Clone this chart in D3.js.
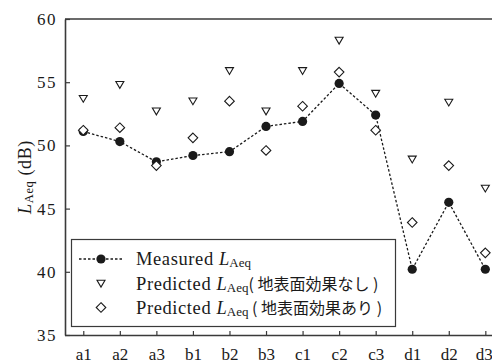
<!DOCTYPE html>
<html>
<head>
<meta charset="utf-8">
<script src="https://cdn.jsdelivr.net/npm/d3@7"></script>
<style>
  html, body { margin: 0; padding: 0; background: #fff; }
  svg { display: block; }
</style>
</head>
<body>
<svg id="chart" width="492" height="363"></svg>
<script>
// Measurement points along the survey route
const sites = ["a1", "a2", "a3", "b1", "b2", "b3", "c1", "c2", "c3", "d1", "d2", "d3"];
// Measured LAeq (dB)
const measured = [51.1, 50.3, 48.7, 49.2, 49.5, 51.5, 51.9, 54.9, 52.4, 40.2, 45.5, 40.2];
// Predicted LAeq without ground effect (dB)
const predictedNoGround = [53.7, 54.8, 52.7, 53.5, 55.9, 52.7, 55.9, 58.3, 54.1, 48.9, 53.4, 46.6];
// Predicted LAeq with ground effect (dB)
const predictedGround = [51.2, 51.4, 48.4, 50.6, 53.5, 49.6, 53.1, 55.8, 51.2, 43.9, 48.4, 41.5];
// Y axis ticks
const yTicks = [35, 40, 45, 50, 55, 60];

const serif = "'Liberation Serif', 'Times New Roman', serif";
const jpSans = "'Noto Sans CJK JP', 'Noto Sans CJK SC', sans-serif";

const svg = d3.select("#chart");
const ink = "#1a1a1a";
const axisInk = "#3a3a3a";

const plotLeft = 65, plotTop = 19, plotBottom = 335, step = 36.55;
const x = d3.scalePoint().domain(sites).range([plotLeft, plotLeft + step * sites.length]).padding(0.5);
const y = d3.scaleLinear().domain([35, 60]).range([plotBottom, plotTop]);

// Top frame line
svg.append("line")
  .attr("x1", plotLeft).attr("x2", 492).attr("y1", plotTop).attr("y2", plotTop)
  .attr("stroke", axisInk).attr("stroke-width", 1.6);

// Left axis with inward ticks
const yAxis = svg.append("g")
  .attr("transform", `translate(${plotLeft},0)`)
  .call(d3.axisLeft(y).tickValues(yTicks).tickSizeInner(-5).tickSizeOuter(0).tickPadding(8))
  .attr("font-family", serif).attr("font-size", 17);
yAxis.select(".domain").attr("stroke", axisInk).attr("stroke-width", 1.6);
yAxis.selectAll(".tick line").attr("stroke", axisInk).attr("stroke-width", 1.2);
yAxis.selectAll(".tick text").attr("fill", ink).attr("letter-spacing", 1.5);

// Bottom axis with inward ticks
const xAxis = svg.append("g")
  .attr("transform", `translate(0,${plotBottom})`)
  .call(d3.axisBottom(x).tickSizeInner(-4).tickSizeOuter(0).tickPadding(13))
  .attr("font-family", serif).attr("font-size", 17);
xAxis.select(".domain").attr("d", `M${plotLeft},0.5H492`).attr("stroke", axisInk).attr("stroke-width", 1.6);
xAxis.selectAll(".tick line").attr("stroke", axisInk).attr("stroke-width", 1.2);
xAxis.selectAll(".tick text").attr("fill", ink)
  .attr("dx", d => d === sites[sites.length - 1] ? -1.5 : 0);

// Y axis title: L_Aeq (dB)
const yTitle = svg.append("text")
  .attr("transform", "translate(31,177) rotate(-90)")
  .attr("text-anchor", "middle")
  .attr("font-family", serif)
  .attr("font-size", 18)
  .attr("letter-spacing", 0.6)
  .attr("fill", ink);
yTitle.append("tspan").attr("font-style", "italic").text("L");
yTitle.append("tspan").attr("font-size", 12.5).attr("dy", 2).text("Aeq");
yTitle.append("tspan").attr("dy", -2).text(" (dB)");

// Measured series: dotted line with filled dots
const line = d3.line().x((d, i) => x(sites[i])).y(d => y(d));
svg.append("path")
  .datum(measured)
  .attr("d", line)
  .attr("fill", "none")
  .attr("stroke", ink)
  .attr("stroke-width", 1.3)
  .attr("stroke-dasharray", "2.5,2");

svg.append("g").selectAll("circle")
  .data(measured)
  .join("circle")
  .attr("cx", (d, i) => x(sites[i]))
  .attr("cy", d => y(d))
  .attr("r", 4.6)
  .attr("fill", ink);

// Marker shapes
const triPath = "M-4,-3.2L4,-3.2L0,3.6Z";
const diaPath = "M0,-4.8L4.8,0L0,4.8L-4.8,0Z";

svg.append("g").selectAll("path")
  .data(predictedNoGround)
  .join("path")
  .attr("transform", (d, i) => `translate(${x(sites[i])},${y(d)})`)
  .attr("d", triPath)
  .attr("fill", "#fff")
  .attr("stroke", ink)
  .attr("stroke-width", 1.1);

svg.append("g").selectAll("path")
  .data(predictedGround)
  .join("path")
  .attr("transform", (d, i) => `translate(${x(sites[i])},${y(d)})`)
  .attr("d", diaPath)
  .attr("fill", "#fff")
  .attr("stroke", ink)
  .attr("stroke-width", 1.1);

// Legend
const legend = svg.append("g");
legend.append("rect")
  .attr("x", 71.5).attr("y", 239.5).attr("width", 324).attr("height", 87)
  .attr("fill", "#fff").attr("stroke", axisInk).attr("stroke-width", 1.2);

const symX = 101, textX = 136;
const rows = [259, 283.5, 307.5];

legend.append("line")
  .attr("x1", 79).attr("x2", 123).attr("y1", rows[0]).attr("y2", rows[0])
  .attr("stroke", ink).attr("stroke-width", 1.3).attr("stroke-dasharray", "2.5,2");
legend.append("circle").attr("cx", symX).attr("cy", rows[0]).attr("r", 4.6).attr("fill", ink);
legend.append("path").attr("transform", `translate(${symX},${rows[1]})`).attr("d", triPath)
  .attr("fill", "#fff").attr("stroke", ink).attr("stroke-width", 1.1);
legend.append("path").attr("transform", `translate(${symX},${rows[2]})`).attr("d", diaPath)
  .attr("fill", "#fff").attr("stroke", ink).attr("stroke-width", 1.1);

const labels = [
  { head: "Measured ", tail: null },
  { head: "Predicted ", tail: "( 地表面効果なし )" },
  { head: "Predicted ", tail: " ( 地表面効果あり )" }
];
labels.forEach((lab, i) => {
  const t = legend.append("text")
    .attr("x", textX).attr("y", rows[i] + 6)
    .attr("font-family", serif)
    .attr("font-size", 18.5).attr("fill", ink)
    .style("white-space", "pre");
  t.append("tspan").attr("letter-spacing", 0.6).text(lab.head);
  t.append("tspan").attr("font-style", "italic").text("L");
  t.append("tspan").attr("font-size", 13).attr("dy", 2).text("Aeq");
  if (lab.tail) {
    t.append("tspan").attr("font-family", jpSans).attr("font-size", 16).attr("dy", -2)
      .text(lab.tail);
  }
});
</script>
</body>
</html>
